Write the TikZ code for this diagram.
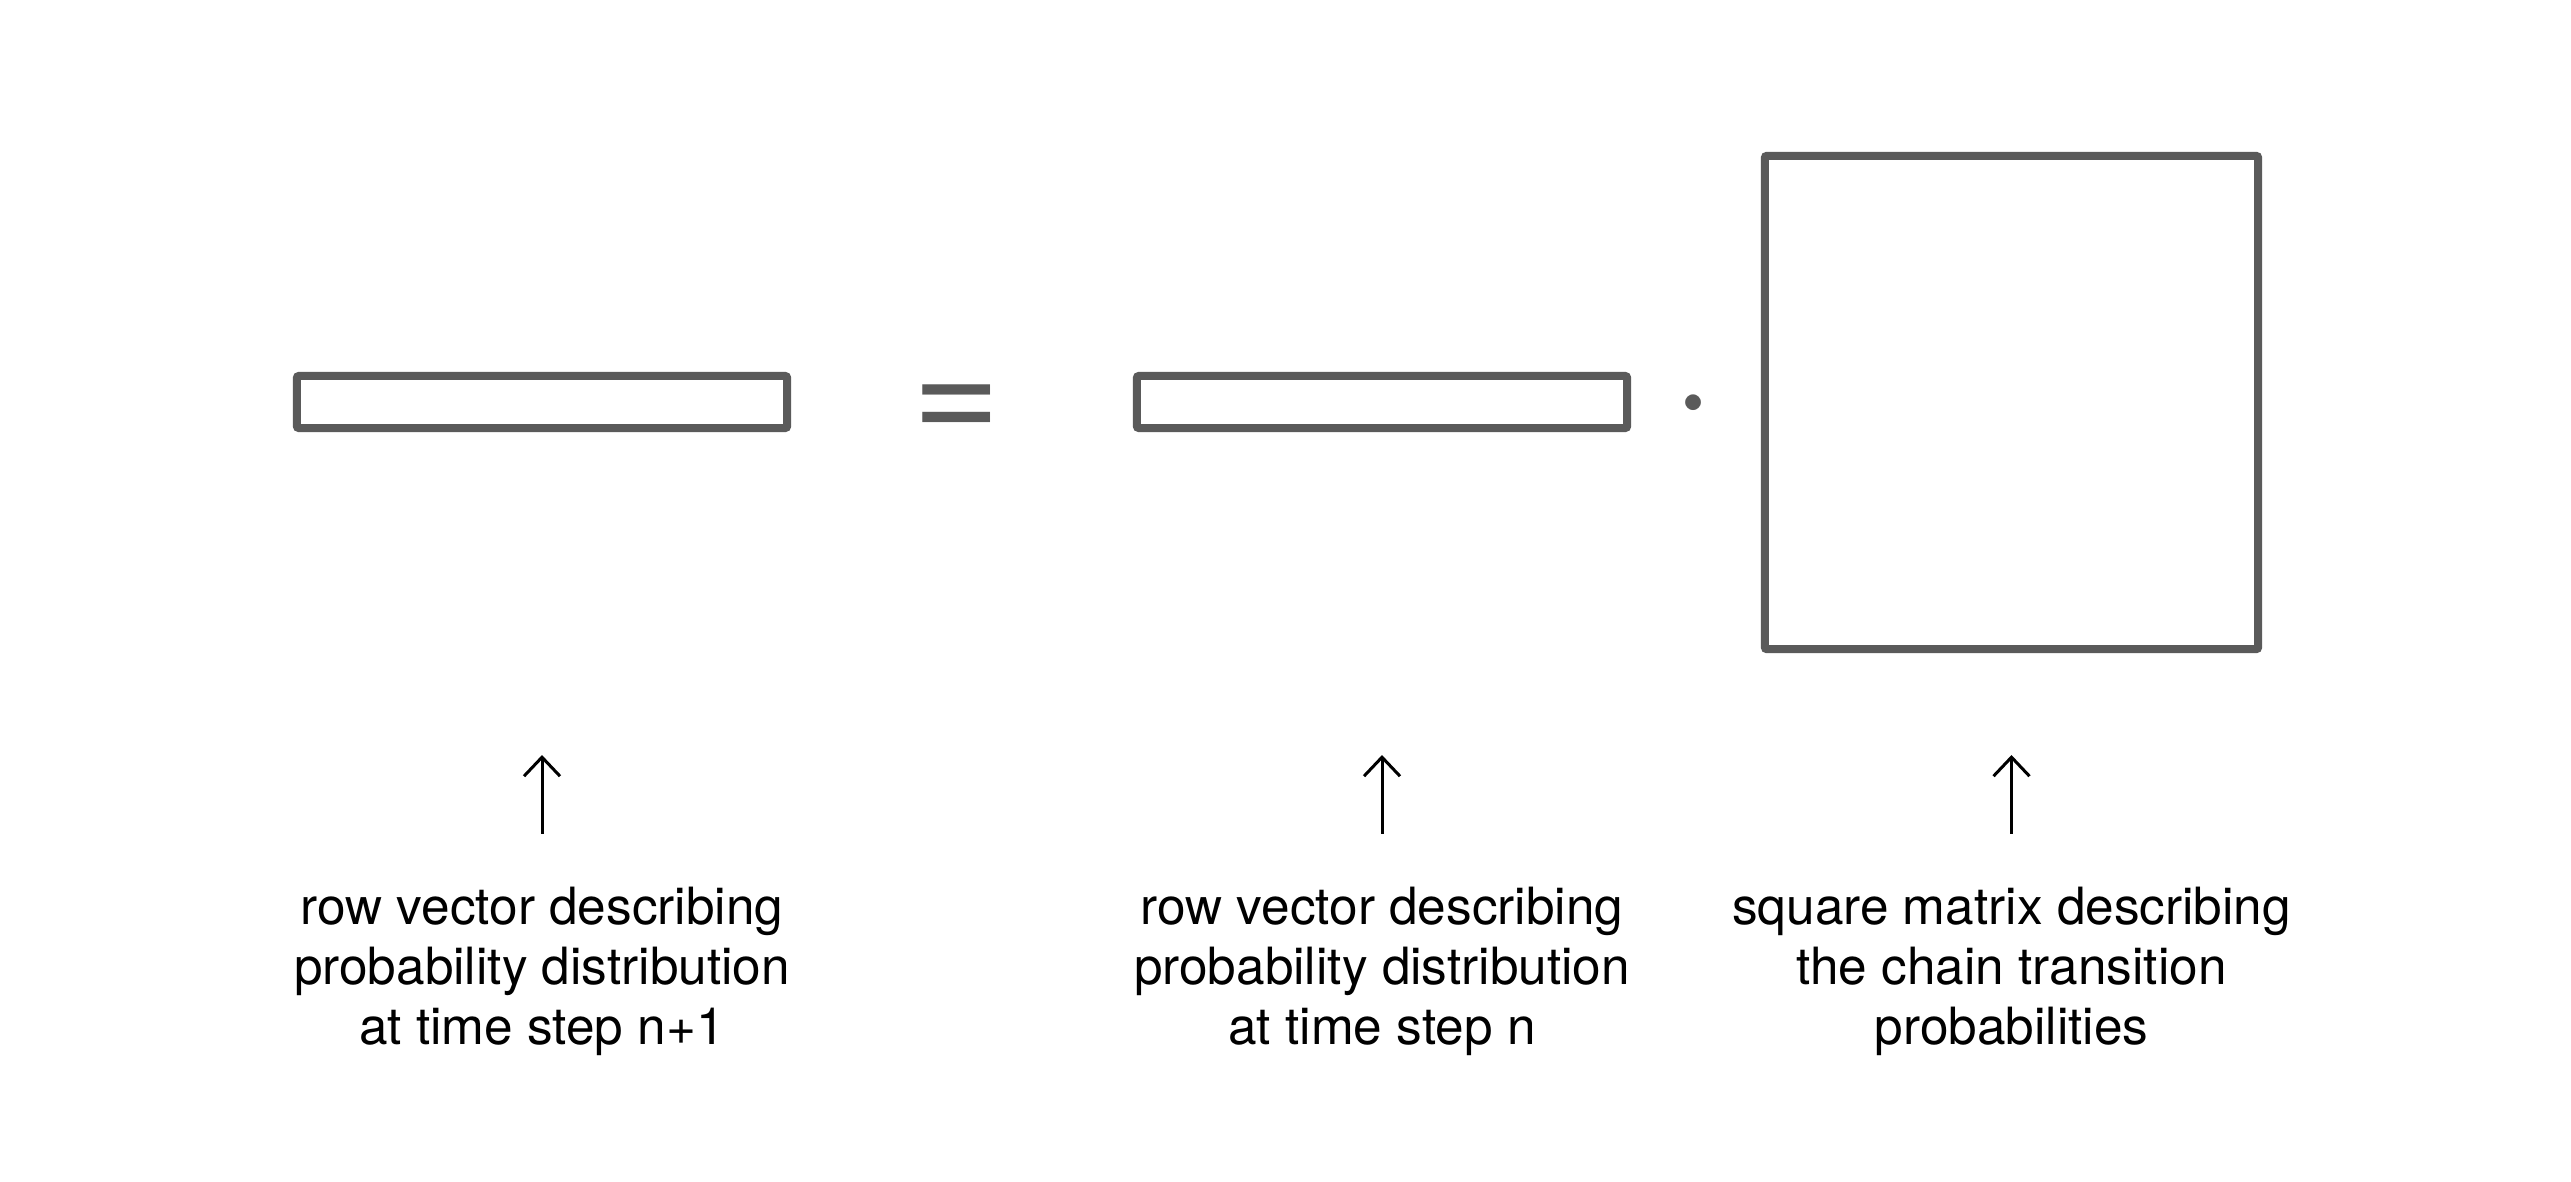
\documentclass[tikz,border=0pt]{standalone}
\usepackage{fontspec}
\setmainfont{TeX Gyre Heros}
\usetikzlibrary{arrows.meta}
\tikzstyle{canvas} = [x = .01cm, y = -.01cm]
\definecolor{shapeColor}{RGB}{90,90,90}
\tikzstyle{matrixBox} = [draw=shapeColor, line width=.08cm, rounded corners=.02cm, inner sep=0, minimum width=4.9cm, minimum height=.52cm]
\tikzstyle{operatorText} = [text=shapeColor, inner sep=0, anchor=base, font=\fontsize{43}{43}\selectfont]
\tikzstyle{captionText} = [font=\fontsize{14.6}{17.07}\selectfont, align=center, anchor=north, inner sep=0]
\tikzstyle{pointerLine} = [line width=.03cm, -{Straight Barb[length=.19cm, width=.36cm]}, shorten <=.52cm]
\newcommand{\describedBy}[3]{
  \node [captionText] (#1Label) at (#2, 886) {#3};
  \coordinate (#1Tip) at (#2, 755);
  \draw [pointerLine] (#1Label) -- (#1Tip);
}

\begin{document}
\begin{tikzpicture}[canvas]
  \useasboundingbox (0, 0) rectangle (2571, 1181);
  \node [matrixBox] (vecNext) at (542, 402) {};
  \node [operatorText] (eqSign) at (956.5, 441) {=};
  \node [matrixBox] (vecNow) at (1382, 402) {};
  \node [operatorText] (dotSign) at (1693.5, 440) {·};
  \node [matrixBox, minimum width=4.93cm, minimum height=4.93cm] (matP) at (2011.5, 402.5) {};

  \describedBy{vecNext}{542}{row vector describing\\probability distribution\\at time step n+1}
  \describedBy{vecNow}{1382}{row vector describing\\probability distribution\\at time step n}
  \describedBy{matP}{2011.5}{square matrix describing\\the chain transition\\probabilities}
\end{tikzpicture}
\end{document}
